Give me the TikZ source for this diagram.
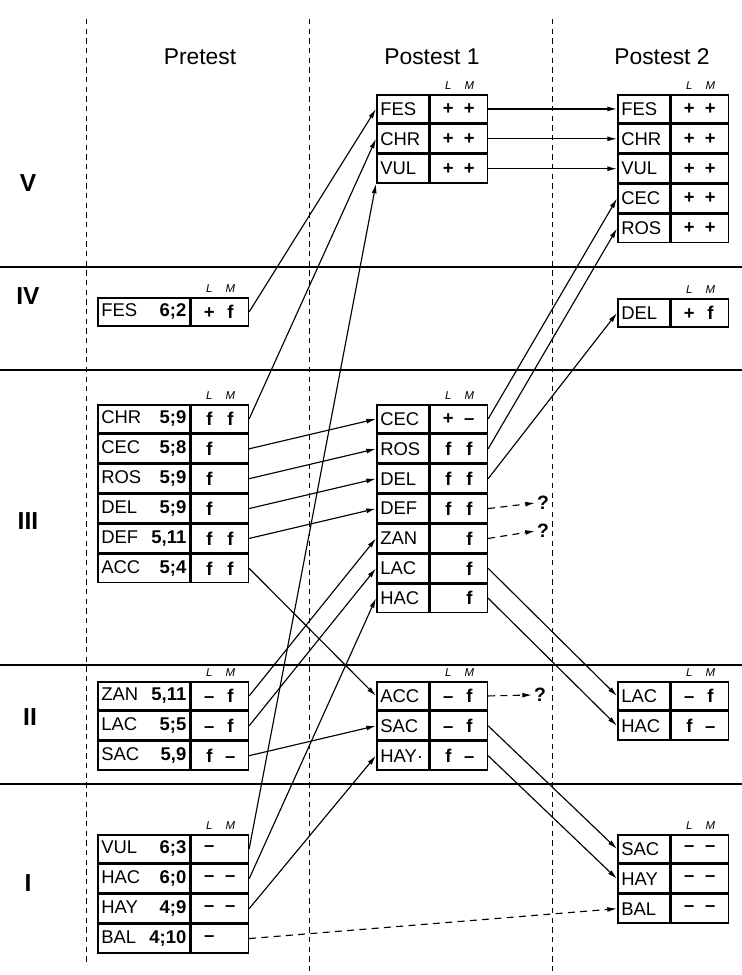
\documentclass[tikz,border=0pt]{standalone}
\usepackage{fontspec}
\setmainfont{Liberation Sans}
\usepackage{tikz}
\usetikzlibrary{arrows.meta,positioning}

% two slots: L and M
\newcommand{\lm}[2]{\makebox[0.42cm]{#1}\makebox[0.42cm]{#2}}

\begin{document}
\begin{tikzpicture}[x=0.02cm,y=-0.02cm,
    cell/.style={draw,line width=0.9pt,minimum height=0.566cm,inner ysep=0pt,inner xsep=0.07cm,font=\fontsize{10.5}{12}\selectfont},
    prename/.style={cell,text width=1.70cm,align=left},
    postname/.style={cell,text width=0.90cm,align=left},
    valcell/.style={cell,minimum width=1.14cm,inner xsep=0pt,font=\fontsize{10.5}{12}\selectfont\bfseries},
    lmhead/.style={inner sep=0.5pt,font=\fontsize{6.5}{7}\selectfont\itshape},
    head/.style={font=\fontsize{13}{15}\selectfont},
    roman/.style={font=\fontsize{14}{16}\selectfont\bfseries},
    query/.style={font=\fontsize{11}{13}\selectfont\bfseries,inner sep=1pt},
    sepline/.style={line width=1pt},
    colline/.style={line width=0.5pt,dash pattern=on 3pt off 2.5pt},
    arrow/.style={-{Latex[length=5.5pt,width=2.8pt]},line width=0.65pt},
    dasharrow/.style={arrow,dash pattern=on 4pt off 3pt}]
  \useasboundingbox (0,0) rectangle (742,975);

  % frame of the chart
  \draw[colline] (86,19) -- (86,962);
  \draw[colline] (309,19) -- (309,975);
  \draw[colline] (552,19) -- (552,975);
  \draw[sepline] (0,267) -- (742,267);
  \draw[sepline] (0,370) -- (742,370);
  \draw[sepline] (0,665) -- (742,665);
  \draw[sepline] (0,784) -- (742,784);

  \node[head] (h-pre) at (200,57) {Pretest};
  \node[head] (h-post1) at (432,57) {Postest 1};
  \node[head] (h-post2) at (662,57) {Postest 2};

  \node[roman] (sec-v) at (28,183) {V};
  \node[roman] (sec-iv) at (28,296) {IV};
  \node[roman] (sec-iii) at (28,521) {III};
  \node[roman] (sec-ii) at (30,717) {II};
  \node[roman] (sec-i) at (28,883) {I};

  % pretest
  \node[prename,anchor=north west] (pre-fes) at (97,297) {FES\hfill\textbf{6;2}};
  \node[valcell,right=0pt of pre-fes] (pre-fes-v) {\lm{+}{f}};
  \node[lmhead,above=2pt of pre-fes-v] (lm-pre-iv) {\lm{L}{M}};

  \node[prename,anchor=north west] (pre-chr) at (97,404) {CHR\hfill\textbf{5;9}};
  \node[prename,below=0pt of pre-chr] (pre-cec) {CEC\hfill\textbf{5;8}};
  \node[prename,below=0pt of pre-cec] (pre-ros) {ROS\hfill\textbf{5;9}};
  \node[prename,below=0pt of pre-ros] (pre-del) {DEL\hfill\textbf{5;9}};
  \node[prename,below=0pt of pre-del] (pre-def) {DEF\hfill\textbf{5,11}};
  \node[prename,below=0pt of pre-def] (pre-acc) {ACC\hfill\textbf{5;4}};
  \node[valcell,right=0pt of pre-chr] (pre-chr-v) {\lm{f}{f}};
  \node[valcell,right=0pt of pre-cec] (pre-cec-v) {\lm{f}{}};
  \node[valcell,right=0pt of pre-ros] (pre-ros-v) {\lm{f}{}};
  \node[valcell,right=0pt of pre-del] (pre-del-v) {\lm{f}{}};
  \node[valcell,right=0pt of pre-def] (pre-def-v) {\lm{f}{f}};
  \node[valcell,right=0pt of pre-acc] (pre-acc-v) {\lm{f}{f}};
  \node[lmhead,above=2pt of pre-chr-v] (lm-pre-iii) {\lm{L}{M}};

  \node[prename,anchor=north west] (pre-zan) at (97,681) {ZAN\hfill\textbf{5,11}};
  \node[prename,below=0pt of pre-zan] (pre-lac) {LAC\hfill\textbf{5;5}};
  \node[prename,below=0pt of pre-lac] (pre-sac) {SAC\hfill\textbf{5,9}};
  \node[valcell,right=0pt of pre-zan] (pre-zan-v) {\lm{--}{f}};
  \node[valcell,right=0pt of pre-lac] (pre-lac-v) {\lm{--}{f}};
  \node[valcell,right=0pt of pre-sac] (pre-sac-v) {\lm{f}{--}};
  \node[lmhead,above=2pt of pre-zan-v] (lm-pre-ii) {\lm{L}{M}};

  \node[prename,anchor=north west] (pre-vul) at (97,834) {VUL\hfill\textbf{6;3}};
  \node[prename,below=0pt of pre-vul] (pre-hac) {HAC\hfill\textbf{6;0}};
  \node[prename,below=0pt of pre-hac] (pre-hay) {HAY\hfill\textbf{4;9}};
  \node[prename,below=0pt of pre-hay] (pre-bal) {BAL\hfill\textbf{4;10}};
  \node[valcell,right=0pt of pre-vul] (pre-vul-v) {\lm{--}{}};
  \node[valcell,right=0pt of pre-hac] (pre-hac-v) {\lm{--}{--}};
  \node[valcell,right=0pt of pre-hay] (pre-hay-v) {\lm{--}{--}};
  \node[valcell,right=0pt of pre-bal] (pre-bal-v) {\lm{--}{}};
  \node[lmhead,above=2pt of pre-vul-v] (lm-pre-i) {\lm{L}{M}};

  % postest 1
  \node[postname,anchor=north west] (p1-fes) at (376,94) {FES};
  \node[postname,below=0pt of p1-fes] (p1-chr) {CHR};
  \node[postname,below=0pt of p1-chr] (p1-vul) {VUL};
  \node[valcell,right=0pt of p1-fes] (p1-fes-v) {\lm{+}{+}};
  \node[valcell,right=0pt of p1-chr] (p1-chr-v) {\lm{+}{+}};
  \node[valcell,right=0pt of p1-vul] (p1-vul-v) {\lm{+}{+}};
  \node[lmhead,above=2pt of p1-fes-v] (lm-p1-v) {\lm{L}{M}};

  \node[postname,anchor=north west] (p1-cec) at (376,404) {CEC};
  \node[postname,below=0pt of p1-cec] (p1-ros) {ROS};
  \node[postname,below=0pt of p1-ros] (p1-del) {DEL};
  \node[postname,below=0pt of p1-del] (p1-def) {DEF};
  \node[postname,below=0pt of p1-def] (p1-zan) {ZAN};
  \node[postname,below=0pt of p1-zan] (p1-lac) {LAC};
  \node[postname,below=0pt of p1-lac] (p1-hac) {HAC};
  \node[valcell,right=0pt of p1-cec] (p1-cec-v) {\lm{+}{--}};
  \node[valcell,right=0pt of p1-ros] (p1-ros-v) {\lm{f}{f}};
  \node[valcell,right=0pt of p1-del] (p1-del-v) {\lm{f}{f}};
  \node[valcell,right=0pt of p1-def] (p1-def-v) {\lm{f}{f}};
  \node[valcell,right=0pt of p1-zan] (p1-zan-v) {\lm{}{f}};
  \node[valcell,right=0pt of p1-lac] (p1-lac-v) {\lm{}{f}};
  \node[valcell,right=0pt of p1-hac] (p1-hac-v) {\lm{}{f}};
  \node[lmhead,above=2pt of p1-cec-v] (lm-p1-iii) {\lm{L}{M}};

  \node[postname,anchor=north west] (p1-acc) at (376,681) {ACC};
  \node[postname,below=0pt of p1-acc] (p1-sac) {SAC};
  \node[postname,below=0pt of p1-sac] (p1-hay) {HAY·};
  \node[valcell,right=0pt of p1-acc] (p1-acc-v) {\lm{--}{f}};
  \node[valcell,right=0pt of p1-sac] (p1-sac-v) {\lm{--}{f}};
  \node[valcell,right=0pt of p1-hay] (p1-hay-v) {\lm{f}{--}};
  \node[lmhead,above=2pt of p1-acc-v] (lm-p1-ii) {\lm{L}{M}};

  \node[query] (q-def) at (543,503) {?};
  \node[query] (q-zan) at (543,531) {?};
  \node[query] (q-acc) at (540,695) {?};

  % postest 2
  \node[postname,anchor=north west] (p2-fes) at (617,94) {FES};
  \node[postname,below=0pt of p2-fes] (p2-chr) {CHR};
  \node[postname,below=0pt of p2-chr] (p2-vul) {VUL};
  \node[postname,below=0pt of p2-vul] (p2-cec) {CEC};
  \node[postname,below=0pt of p2-cec] (p2-ros) {ROS};
  \node[valcell,right=0pt of p2-fes] (p2-fes-v) {\lm{+}{+}};
  \node[valcell,right=0pt of p2-chr] (p2-chr-v) {\lm{+}{+}};
  \node[valcell,right=0pt of p2-vul] (p2-vul-v) {\lm{+}{+}};
  \node[valcell,right=0pt of p2-cec] (p2-cec-v) {\lm{+}{+}};
  \node[valcell,right=0pt of p2-ros] (p2-ros-v) {\lm{+}{+}};
  \node[lmhead,above=2pt of p2-fes-v] (lm-p2-v) {\lm{L}{M}};

  \node[postname,anchor=north west] (p2-del) at (617,298) {DEL};
  \node[valcell,right=0pt of p2-del] (p2-del-v) {\lm{+}{f}};
  \node[lmhead,above=2pt of p2-del-v] (lm-p2-iv) {\lm{L}{M}};

  \node[postname,anchor=north west] (p2-lac) at (617,681) {LAC};
  \node[postname,below=0pt of p2-lac] (p2-hac) {HAC};
  \node[valcell,right=0pt of p2-lac] (p2-lac-v) {\lm{--}{f}};
  \node[valcell,right=0pt of p2-hac] (p2-hac-v) {\lm{f}{--}};
  \node[lmhead,above=2pt of p2-lac-v] (lm-p2-ii) {\lm{L}{M}};

  \node[postname,anchor=north west] (p2-sac) at (617,834) {SAC};
  \node[postname,below=0pt of p2-sac] (p2-hay) {HAY};
  \node[postname,below=0pt of p2-hay] (p2-bal) {BAL};
  \node[valcell,right=0pt of p2-sac] (p2-sac-v) {\lm{--}{--}};
  \node[valcell,right=0pt of p2-hay] (p2-hay-v) {\lm{--}{--}};
  \node[valcell,right=0pt of p2-bal] (p2-bal-v) {\lm{--}{--}};
  \node[lmhead,above=2pt of p2-sac-v] (lm-p2-i) {\lm{L}{M}};

  % pretest -> postest 1
  \draw[arrow] (pre-fes-v.east) -- (p1-fes.west);
  \draw[arrow] (pre-chr-v.east) -- (p1-chr.west);
  \draw[arrow] (pre-cec-v.east) -- (p1-cec.west);
  \draw[arrow] (pre-ros-v.east) -- (p1-ros.west);
  \draw[arrow] (pre-del-v.east) -- (p1-del.west);
  \draw[arrow] (pre-def-v.east) -- (p1-def.west);
  \draw[arrow] (pre-acc-v.east) -- (p1-acc.west);
  \draw[arrow] (pre-zan-v.east) -- (p1-zan.west);
  \draw[arrow] (pre-lac-v.east) -- (p1-lac.west);
  \draw[arrow] (pre-sac-v.east) -- (p1-sac.west);
  \draw[arrow] (pre-vul-v.east) -- (p1-vul.south west);
  \draw[arrow] (pre-hac-v.east) -- (p1-hac.west);
  \draw[arrow] (pre-hay-v.east) -- (p1-hay.west);
  \draw[dasharrow] (pre-bal-v.east) -- (p2-bal.west);

  % postest 1 -> postest 2
  \draw[arrow] (p1-fes-v.east) -- (p2-fes.west);
  \draw[arrow] (p1-chr-v.east) -- (p2-chr.west);
  \draw[arrow] (p1-vul-v.east) -- (p2-vul.west);
  \draw[arrow] (p1-cec-v.east) -- (p2-cec.west);
  \draw[arrow] (p1-ros-v.east) -- (p2-ros.west);
  \draw[arrow] (p1-del-v.east) -- (p2-del.west);
  \draw[dasharrow] (p1-def-v.east) -- (q-def.west);
  \draw[dasharrow] (p1-zan-v.east) -- (q-zan.west);
  \draw[arrow] (p1-lac-v.east) -- (p2-lac.west);
  \draw[arrow] (p1-hac-v.east) -- (p2-hac.west);
  \draw[dasharrow] (p1-acc-v.east) -- (q-acc.west);
  \draw[arrow] (p1-sac-v.east) -- (p2-sac.west);
  \draw[arrow] (p1-hay-v.east) -- (p2-hay.west);
\end{tikzpicture}
\end{document}
